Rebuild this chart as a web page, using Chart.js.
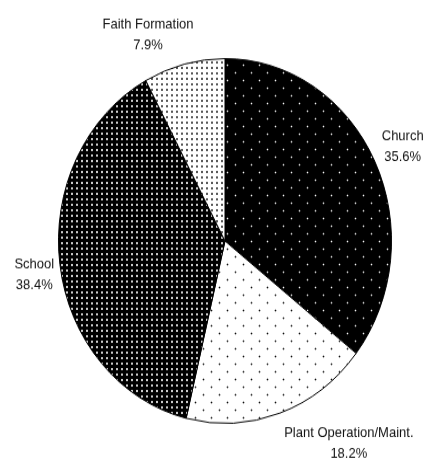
<!DOCTYPE html>
<html>
<head>
<meta charset="utf-8">
<script src="https://cdn.jsdelivr.net/npm/chart.js@4"></script>
<style>
  html, body { margin: 0; padding: 0; background: #fff; }
  #frame { width: 427px; height: 460px; overflow: hidden; }
  /* the reference pie is slightly taller than wide, so stretch the drawing */
  #wrap { width: 427px; height: 420px; transform: scaleY(1.0952); transform-origin: 0 0; }
</style>
</head>
<body>
<div id="frame"><div id="wrap"><canvas id="pieChart"></canvas></div></div>
<script>
// ----- Data -----
const categories = ["Church", "Plant Operation/Maint.", "School", "Faith Formation"];
const shares = [35.6, 18.2, 38.4, 7.9];
const shareLabels = ["35.6%", "18.2%", "38.4%", "7.9%"];

// ----- Dot patterns -----
function dotPattern(w, h, bg, dot, halo, dots, size) {
  const c = document.createElement("canvas");
  c.width = w; c.height = h;
  const g = c.getContext("2d");
  g.fillStyle = bg;
  g.fillRect(0, 0, w, h);
  dots.forEach(([x, y]) => {
    if (halo) {
      g.fillStyle = halo;
      g.fillRect(x - 1, y, size + 2, size);
      g.fillRect(x, y - 1, size, size + 2);
    }
    g.fillStyle = dot;
    g.fillRect(x, y, size, size);
  });
  return g.createPattern(c, "repeat");
}

const fills = [
  dotPattern(16, 14, "#000", "#f2f2f2", "#3a3a3a", [[3, 3], [11, 10]], 1),
  dotPattern(16, 14, "#fff", "#111", "#bbb", [[3, 3], [11, 10]], 1),
  dotPattern(5, 5, "#000", "#c8c8c8", null, [[1, 1]], 2),
  dotPattern(5, 5, "#fff", "#5a5a5a", null, [[1, 1]], 2)
];

// ----- Outside labels (name + percent) -----
const labelNudge = [[2, -1], [45, 2], [2, 6], [-23, 0]];
const outsideLabels = {
  id: "outsideLabels",
  afterDatasetsDraw(chart) {
    const ctx = chart.ctx;
    const arcs = chart.getDatasetMeta(0).data;
    ctx.save();
    ctx.font = "13px 'Liberation Sans', Arial, sans-serif";
    ctx.fillStyle = "#111";
    ctx.textAlign = "center";
    ctx.textBaseline = "middle";
    arcs.forEach((arc, i) => {
      const mid = (arc.startAngle + arc.endAngle) / 2;
      const r = arc.outerRadius + 8;
      const lines = [categories[i], shareLabels[i]];
      const w = Math.max(...lines.map(t => ctx.measureText(t).width));
      const h = 38;
      const cx = arc.x + r * Math.cos(mid) + (w / 2) * Math.cos(mid) + labelNudge[i][0];
      const cy = arc.y + r * Math.sin(mid) + (h / 2) * Math.sin(mid) + labelNudge[i][1];
      ctx.fillText(lines[0], cx, cy - 9.5);
      ctx.fillText(lines[1], cx, cy + 9.5);
    });
    ctx.restore();
  }
};

new Chart(document.getElementById("pieChart"), {
  type: "pie",
  data: {
    labels: categories,
    datasets: [{
      data: shares,
      backgroundColor: fills,
      borderColor: "#000",
      borderWidth: 1
    }]
  },
  options: {
    responsive: true,
    maintainAspectRatio: false,
    animation: false,
    layout: { padding: { left: 58, right: 35, top: 53, bottom: 33 } },
    plugins: {
      legend: { display: false },
      tooltip: { enabled: false }
    }
  },
  plugins: [outsideLabels]
});
</script>
</body>
</html>
